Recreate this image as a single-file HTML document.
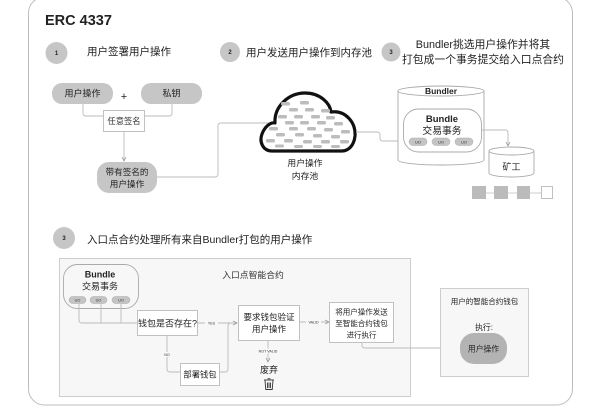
<!DOCTYPE html>
<html><head><meta charset="utf-8"><style>
html,body{margin:0;padding:0;background:#fff;}
svg{display:block;}
text{font-family:"Liberation Sans","Noto Sans CJK SC",sans-serif;}
</style></head><body>
<svg width="600" height="409" viewBox="0 0 600 409" xmlns="http://www.w3.org/2000/svg">
<defs>
<marker id="ar" markerWidth="6" markerHeight="6" refX="5" refY="3" orient="auto" markerUnits="userSpaceOnUse">
<path d="M1,1 L5,3 L1,5" fill="none" stroke="#999" stroke-width="0.8"/>
</marker>
</defs>
<rect x="0" y="0" width="600" height="409" fill="#fff"/>
<!-- outer frame -->
<rect x="28.5" y="-3" width="544" height="408" rx="16" fill="#fff" stroke="#bdbdbd" stroke-width="1"/>
<text x="45" y="25" font-size="14.5" font-weight="bold" fill="#222">ERC 4337</text>

<!-- step headers -->
<circle cx="56.5" cy="53" r="11" fill="#c6c6c6"/>
<text x="56.5" y="55" font-size="6" font-weight="bold" text-anchor="middle" fill="#222">1</text>
<text x="87" y="55" font-size="10.5" fill="#222">用户签署用户操作</text>

<circle cx="230" cy="52" r="10" fill="#c6c6c6"/>
<text x="230" y="54" font-size="6" font-weight="bold" text-anchor="middle" fill="#222">2</text>
<text x="246" y="56" font-size="10.5" fill="#222">用户发送用户操作到内存池</text>

<circle cx="391" cy="52" r="9.5" fill="#c6c6c6"/>
<text x="391" y="54" font-size="6" font-weight="bold" text-anchor="middle" fill="#222">3</text>
<text x="483" y="48" font-size="10.8" text-anchor="middle" fill="#222">Bundler挑选用户操作并将其</text>
<text x="483" y="63" font-size="10.8" text-anchor="middle" fill="#222">打包成一个事务提交给入口点合约</text>

<!-- section 1 -->
<rect x="52" y="83" width="61" height="21" rx="10" fill="#c6c6c6"/>
<text x="82.5" y="96.5" font-size="9" text-anchor="middle" fill="#222">用户操作</text>
<text x="124" y="100" font-size="11" text-anchor="middle" fill="#222">+</text>
<rect x="141" y="83" width="61" height="21" rx="10" fill="#c6c6c6"/>
<text x="171.5" y="96.5" font-size="9" text-anchor="middle" fill="#222">私钥</text>
<path d="M83,104 V113 Q83,116 86,116 H169 Q172,116 172,113 V104" fill="none" stroke="#bbb" stroke-width="0.9"/>
<rect x="103.5" y="110.5" width="41" height="21" fill="#fff" stroke="#bbb" stroke-width="0.9"/>
<text x="124" y="124" font-size="8.3" text-anchor="middle" fill="#333">任意签名</text>
<line x1="124" y1="132" x2="124" y2="161" stroke="#bbb" stroke-width="0.9" marker-end="url(#ar)"/>
<rect x="97" y="162" width="60" height="31" rx="12" fill="#c6c6c6"/>
<text x="127" y="175" font-size="8.6" text-anchor="middle" fill="#222">带有签名的</text>
<text x="127" y="187" font-size="8.6" text-anchor="middle" fill="#222">用户操作</text>
<path d="M157,177 H215 Q218,177 218,174 V126 Q218,123 221,123 H274" fill="none" stroke="#bbb" stroke-width="0.9"/>

<!-- cloud -->
<path d="M272,151 C263,151 259,142 262,134 C265,126 271,122 275,123 C274,107 288,93 305,93 C320,93 330,103 331,112 C345,110 356,122 355,136 C354,146 348,151 342,151 Z" fill="#fff" stroke="#111" stroke-width="3.2" stroke-linejoin="round"/>
<g fill="#bcbcbc">
<rect x="281" y="102" width="9" height="3.5" rx="1.5"/><rect x="300" y="101" width="9" height="3.5" rx="1.5"/>
<rect x="289" y="108" width="9" height="3.5" rx="1.5"/><rect x="305" y="108" width="9" height="3.5" rx="1.5"/><rect x="321" y="109" width="9" height="3.5" rx="1.5"/>
<rect x="278" y="115" width="9" height="3.5" rx="1.5"/><rect x="294" y="115" width="9" height="3.5" rx="1.5"/><rect x="311" y="115" width="9" height="3.5" rx="1.5"/><rect x="326" y="116" width="9" height="3.5" rx="1.5"/>
<rect x="285" y="121" width="9" height="3.5" rx="1.5"/><rect x="300" y="121" width="9" height="3.5" rx="1.5"/><rect x="317" y="121" width="9" height="3.5" rx="1.5"/><rect x="334" y="122" width="9" height="3.5" rx="1.5"/>
<rect x="269" y="127" width="9" height="3.5" rx="1.5"/><rect x="289" y="127" width="9" height="3.5" rx="1.5"/><rect x="307" y="127" width="9" height="3.5" rx="1.5"/><rect x="324" y="128" width="9" height="3.5" rx="1.5"/><rect x="341" y="130" width="9" height="3.5" rx="1.5"/>
<rect x="276" y="133" width="9" height="3.5" rx="1.5"/><rect x="295" y="133" width="9" height="3.5" rx="1.5"/><rect x="313" y="134" width="9" height="3.5" rx="1.5"/><rect x="331" y="135" width="9" height="3.5" rx="1.5"/>
<rect x="266" y="139" width="9" height="3.5" rx="1.5"/><rect x="284" y="139" width="9" height="3.5" rx="1.5"/><rect x="303" y="140" width="9" height="3.5" rx="1.5"/><rect x="321" y="140" width="9" height="3.5" rx="1.5"/><rect x="340" y="140" width="9" height="3.5" rx="1.5"/>
<rect x="275" y="144.5" width="9" height="3" rx="1.5"/><rect x="294" y="145" width="9" height="3" rx="1.5"/><rect x="313" y="145" width="9" height="3" rx="1.5"/><rect x="331" y="145" width="9" height="3" rx="1.5"/>
</g>
<text x="305" y="166" font-size="8.8" text-anchor="middle" fill="#222">用户操作</text>
<text x="305" y="179" font-size="8.8" text-anchor="middle" fill="#222">内存池</text>
<path d="M356,132 H377 Q380,132 380,135 V138 Q380,141 383,141 H409" fill="none" stroke="#bbb" stroke-width="0.9"/>

<!-- Bundler cylinder -->
<path d="M398,91 V160 A43,5 0 0 0 484,160 V91" fill="#fff" stroke="#aaa" stroke-width="0.9"/>
<ellipse cx="441" cy="91" rx="43" ry="5" fill="#fff" stroke="#aaa" stroke-width="0.9"/>
<text x="441" y="94" font-size="8.5" font-weight="bold" text-anchor="middle" fill="#222">Bundler</text>
<rect x="403.5" y="109" width="78" height="43" rx="15" fill="#fff" stroke="#aaa" stroke-width="0.9"/>
<text x="442" y="122" font-size="9.5" font-weight="bold" text-anchor="middle" fill="#222">Bundle</text>
<text x="442" y="134" font-size="9.8" text-anchor="middle" fill="#222">交易事务</text>
<g fill="#c4c4c4" stroke="#aaa" stroke-width="0.5">
<rect x="409" y="138" width="18" height="7.5" rx="3.7"/><rect x="432" y="138" width="18" height="7.5" rx="3.7"/><rect x="455" y="138" width="18" height="7.5" rx="3.7"/>
</g>
<g font-size="4" text-anchor="middle" fill="#333"><text x="418" y="143.3">UO</text><text x="441" y="143.3">UO</text><text x="464" y="143.3">UO</text></g>
<path d="M482,130 H505 Q508,130 508,133 V146" fill="none" stroke="#bbb" stroke-width="0.9" marker-end="url(#ar)"/>

<!-- miner cylinder -->
<path d="M489,151 V173 A22.5,4 0 0 0 534,173 V151" fill="#fff" stroke="#aaa" stroke-width="0.9"/>
<ellipse cx="511.5" cy="151" rx="22.5" ry="4" fill="#fff" stroke="#aaa" stroke-width="0.9"/>
<text x="511.5" y="170" font-size="9" text-anchor="middle" fill="#222">矿工</text>

<!-- blocks -->
<line x1="486" y1="193" x2="541" y2="193" stroke="#bbb" stroke-width="0.8"/>
<rect x="472" y="186" width="14" height="13" fill="#bbb"/>
<rect x="494" y="186" width="14" height="13" fill="#bbb"/>
<rect x="517" y="186" width="13" height="13" fill="#bbb"/>
<rect x="541.5" y="186.5" width="11" height="12" fill="#fff" stroke="#bbb" stroke-width="0.9"/>

<!-- section 4 header -->
<circle cx="64" cy="238" r="11" fill="#c6c6c6"/>
<text x="64" y="240" font-size="6" font-weight="bold" text-anchor="middle" fill="#222">3</text>
<text x="87" y="243" font-size="10.5" fill="#222">入口点合约处理所有来自Bundler打包的用户操作</text>

<!-- entry point box -->
<rect x="59.5" y="258.5" width="351" height="138" fill="#f7f7f7" stroke="#c8c8c8" stroke-width="0.9"/>
<text x="253" y="278" font-size="8.8" text-anchor="middle" fill="#333">入口点智能合约</text>

<rect x="63.5" y="264.5" width="75" height="44" rx="14" fill="#f7f7f7" stroke="#aaa" stroke-width="0.9"/>
<text x="100" y="277.5" font-size="9" font-weight="bold" text-anchor="middle" fill="#222">Bundle</text>
<text x="100" y="289.5" font-size="9" text-anchor="middle" fill="#222">交易事务</text>
<g fill="#c4c4c4" stroke="#aaa" stroke-width="0.5">
<rect x="69" y="296.5" width="17" height="7" rx="3.5"/><rect x="90" y="296.5" width="17" height="7" rx="3.5"/><rect x="112" y="296.5" width="18" height="7" rx="3.5"/>
</g>
<g font-size="3.8" text-anchor="middle" fill="#333"><text x="77.5" y="301.5">UO</text><text x="98.5" y="301.5">UO</text><text x="121" y="301.5">UO</text></g>
<g fill="none" stroke="#bbb" stroke-width="0.9">
<path d="M79,304 V320 Q79,323 82,323 H137"/>
<line x1="101" y1="304" x2="101" y2="323"/>
<line x1="121" y1="304" x2="121" y2="323"/>
</g>
<rect x="137.5" y="310.5" width="60" height="25" fill="#fff" stroke="#bbb" stroke-width="0.9"/>
<text x="167.5" y="326.5" font-size="9" text-anchor="middle" fill="#222">钱包是否存在?</text>

<g fill="none" stroke="#bbb" stroke-width="0.9">
<line x1="198" y1="323" x2="237" y2="323" marker-end="url(#ar)"/>
<path d="M167,336 V369 Q167,372 170,372 H180"/>
<path d="M220,372 H225 Q228,372 228,369 V326 Q228,323 231,323"/>
<line x1="268" y1="340" x2="268" y2="362" marker-end="url(#ar)"/>
<line x1="300" y1="322" x2="329" y2="322" marker-end="url(#ar)"/>
<path d="M362,343 V345 Q362,348 365,348 H459" marker-end="url(#ar)"/>
</g>
<rect x="205" y="320.5" width="13" height="5" fill="#f7f7f7"/>
<text x="211.5" y="324.5" font-size="3.6" text-anchor="middle" fill="#333">YES</text>
<rect x="161" y="352" width="12" height="5" fill="#f7f7f7"/>
<text x="167" y="356" font-size="3.6" text-anchor="middle" fill="#333">NO</text>
<rect x="256" y="348.5" width="24" height="5" fill="#f7f7f7"/>
<text x="268" y="352.5" font-size="3.6" text-anchor="middle" fill="#333">NOT VALID</text>
<rect x="306" y="319.5" width="15" height="5" fill="#f7f7f7"/>
<text x="313.5" y="323.5" font-size="3.6" text-anchor="middle" fill="#333">VALID</text>

<rect x="180.5" y="363.5" width="39" height="22" fill="#fff" stroke="#bbb" stroke-width="0.9"/>
<text x="200" y="377.5" font-size="8.3" text-anchor="middle" fill="#222">部署钱包</text>

<rect x="238.5" y="305.5" width="61" height="35" fill="#fff" stroke="#bbb" stroke-width="0.9"/>
<text x="269" y="320" font-size="8.5" text-anchor="middle" fill="#222">要求钱包验证</text>
<text x="269" y="332" font-size="8.5" text-anchor="middle" fill="#222">用户操作</text>

<text x="269" y="373" font-size="9" text-anchor="middle" fill="#222">废弃</text>
<g fill="none" stroke="#333" stroke-width="0.9">
<line x1="264" y1="380" x2="274" y2="380"/>
<line x1="267.5" y1="378.8" x2="270.5" y2="378.8"/>
<path d="M265,380.5 L265.8,389.5 H272.2 L273,380.5"/>
<line x1="267.5" y1="382.5" x2="267.5" y2="388"/>
<line x1="269" y1="382.5" x2="269" y2="388"/>
<line x1="270.5" y1="382.5" x2="270.5" y2="388"/>
</g>

<rect x="329.5" y="302.5" width="64" height="40" fill="#fff" stroke="#bbb" stroke-width="0.9"/>
<text x="361.5" y="314.5" font-size="7.5" text-anchor="middle" fill="#222">将用户操作发送</text>
<text x="361.5" y="326" font-size="7.5" text-anchor="middle" fill="#222">至智能合约钱包</text>
<text x="361.5" y="337.5" font-size="7.5" text-anchor="middle" fill="#222">进行执行</text>

<!-- user smart wallet -->
<rect x="440.5" y="288.5" width="88" height="88" fill="#f7f7f7" stroke="#c8c8c8" stroke-width="0.9"/>
<text x="484.5" y="304" font-size="7.5" text-anchor="middle" fill="#222">用户的智能合约钱包</text>
<text x="484" y="330" font-size="7.8" text-anchor="middle" fill="#222">执行:</text>
<rect x="460" y="333" width="47" height="31" rx="14" fill="#b3b3b3"/>
<text x="483.5" y="351.5" font-size="7.8" text-anchor="middle" fill="#222">用户操作</text>
</svg>
</body></html>
